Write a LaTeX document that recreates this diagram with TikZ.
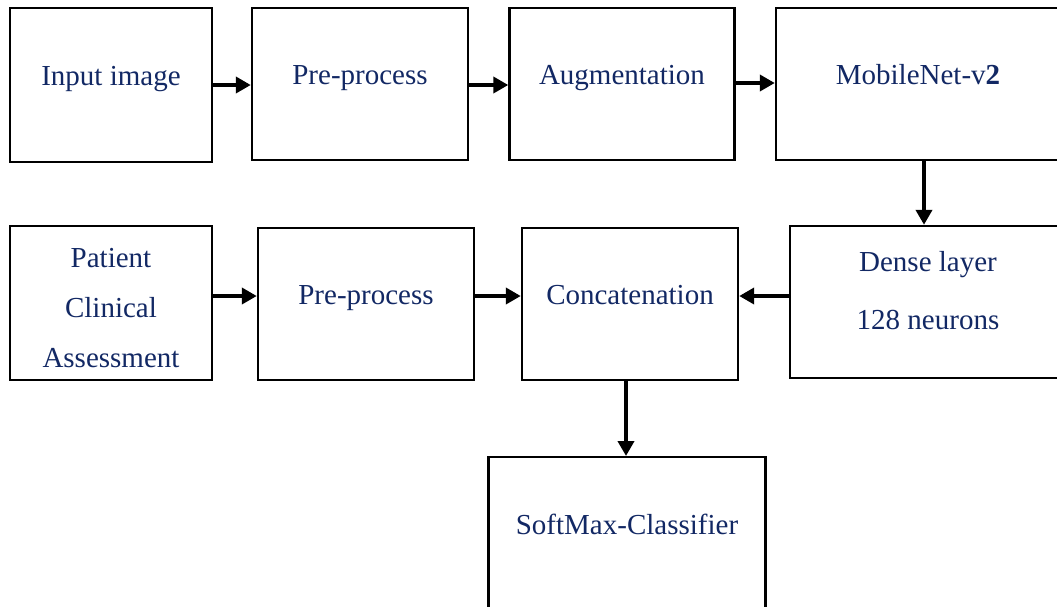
\documentclass[tikz,border=0pt]{standalone}
\usepackage{fontspec}
\setmainfont{Liberation Serif}
\usepackage{tikz}
\usetikzlibrary{arrows.meta}
\usetikzlibrary{positioning}
\definecolor{boxtext}{RGB}{18,40,100}
\tikzset{
    mybox/.style={rectangle,draw=black,line width=2.4pt,inner sep=0pt,text=boxtext,
        font=\fontsize{29}{50}\selectfont,align=center},
    oneline/.style={text height=10pt,text depth=10pt},
    myarrow/.style={-{Triangle[length=15pt,width=16pt]}, line width=4pt}
}
\begin{document}
\begin{tikzpicture}[x=1pt,y=-1pt]
    \path[use as bounding box] (0,0) rectangle (1057,606);
    \clip (0,0) rectangle (1057,606);
    % first row
    \node[mybox,oneline,minimum width=202pt,minimum height=154pt] (11) at (111,85) {Input image};
    \node[mybox,oneline,minimum width=216pt,minimum height=152pt] (12) at (360,84) {Pre-process};
    \node[mybox,oneline,minimum width=225pt,minimum height=152pt] (13) at (622,84) {Augmentation};
    \node[mybox,oneline,minimum width=284pt,minimum height=152pt] (14) at (918,84) {MobileNet-v\textbf{2}};
    % second row
    \node[mybox,text height=135pt,text depth=7pt,minimum width=202pt,minimum height=154pt] (21) at (111,303) {Patient\\Clinical\\Assessment};
    \node[mybox,oneline,minimum width=216pt,minimum height=152pt] (22) at (366,304) {Pre-process};
    \node[mybox,oneline,minimum width=216pt,minimum height=152pt] (23) at (630,304) {Concatenation};
    \node[mybox,text depth=24pt,minimum width=276pt,minimum height=152pt] (24) at (928,302) {Dense layer\\[8pt]128 neurons};
    % output
    \node[mybox,anchor=north,minimum width=277pt,text height=77pt,text depth=120pt] (31) at (627,456) {SoftMax-Classifier};
    \path (11.east |- 0,85) edge [myarrow] (12.west |- 0,85)
          (12.east |- 0,85) edge [myarrow] (13.west |- 0,85)
          (13.east |- 0,83) edge [myarrow] (14.west |- 0,83)
          (14.south -| 924,0) edge [myarrow] (24.north -| 924,0)
          (21.east |- 0,296) edge [myarrow] (22.west |- 0,296)
          (22.east |- 0,296) edge [myarrow] (23.west |- 0,296)
          (24.west |- 0,296) edge [myarrow] (23.east |- 0,296)
          (23.south -| 626,0) edge [myarrow] (31.north -| 626,0);
\end{tikzpicture}
\end{document}
